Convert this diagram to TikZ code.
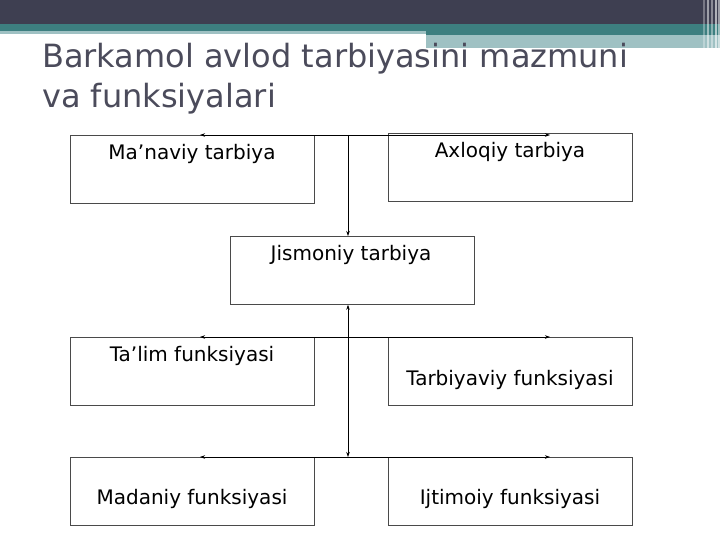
\documentclass[tikz,border=0pt]{standalone}
\usepackage{fontspec}
\setmainfont{DejaVu Sans}
\usetikzlibrary{arrows.meta}
\definecolor{bardark}{HTML}{3E3F51}
\definecolor{barteal}{HTML}{3D7F80}
\definecolor{barlight}{HTML}{9FC1C3}
\definecolor{titlecol}{HTML}{4B4B5B}
\definecolor{boxline}{HTML}{4A4A4A}
\tikzset{
  box/.style={draw=boxline, line width=0.8pt, minimum width=244pt, minimum height=68pt, inner sep=0pt, anchor=north west},
  lbl/.style={font=\fontsize{20}{24}\selectfont, inner sep=0pt, text=black},
  conn/.style={draw=black, line width=0.6pt, -{Stealth[length=5pt,width=3.5pt]}},
  conn2/.style={draw=black, line width=0.6pt, {Stealth[length=5pt,width=3.5pt]}-{Stealth[length=5pt,width=3.5pt]}},
  ttl/.style={font=\fontsize{32}{38}\selectfont, text=titlecol, inner sep=0pt, anchor=base west}
}
\begin{document}
\begin{tikzpicture}[x=1pt,y=-1pt]
\useasboundingbox (0,0) rectangle (720,540);
\fill[white] (0,0) rectangle (720,540);
% header bars
\fill[bardark] (0,0) rectangle (720,24);
\fill[barteal] (0,24) rectangle (720,31);
\fill[barlight] (0,31) rectangle (426,34);
\fill[barteal] (426,31) rectangle (720,35);
\fill[barlight] (426,35) rectangle (720,48);
\foreach \xx/\op in {703/0.3,707/0.5,711/0.4,715/0.6,718/0.5}
  \fill[white,opacity=\op] (\xx,0) rectangle ++(1.5,48);
% title
\node[ttl] (t1) at (42,68) {Barkamol avlod tarbiyasini mazmuni};
\node[ttl] (t2) at (42,108) {va funksiyalari};
% boxes
\node[box] (m) at (70,135) {};
\node[box] (a) at (388,133) {};
\node[box] (j) at (230,236) {};
\node[box] (tl) at (70,337) {};
\node[box] (tb) at (388,337) {};
\node[box] (md) at (70,457) {};
\node[box] (ij) at (388,457) {};
% labels
\node[lbl] (lm) at (192,154) {Ma’naviy tarbiya};
\node[lbl] (la) at (510,152) {Axloqiy tarbiya};
\node[lbl] (lj) at (351,255) {Jismoniy tarbiya};
\node[lbl] (ltl) at (192,356) {Ta’lim funksiyasi};
\node[lbl] (ltb) at (510,380) {Tarbiyaviy funksiyasi};
\node[lbl] (lmd) at (192,499) {Madaniy funksiyasi};
\node[lbl] (lij) at (510,499) {Ijtimoiy funksiyasi};
% connector coordinates
\coordinate (h1) at (348,135);
\coordinate (h1l) at (200,135);
\coordinate (h1r) at (550,135);
\coordinate (h2l) at (200,337);
\coordinate (h2r) at (550,337);
\coordinate (h3) at (348,457);
\coordinate (h3l) at (200,457);
\coordinate (h3r) at (550,457);
% connectors
\draw[conn] (h1) -- (h1l);
\draw[conn] (h1) -- (h1r);
\draw[conn] (h1) -- (h1 |- j.north);
\draw[conn2] (h1 |- j.south) -- (h3);
\draw[conn2] (h2l) -- (h2r);
\draw[conn2] (h3l) -- (h3r);
\end{tikzpicture}
\end{document}
